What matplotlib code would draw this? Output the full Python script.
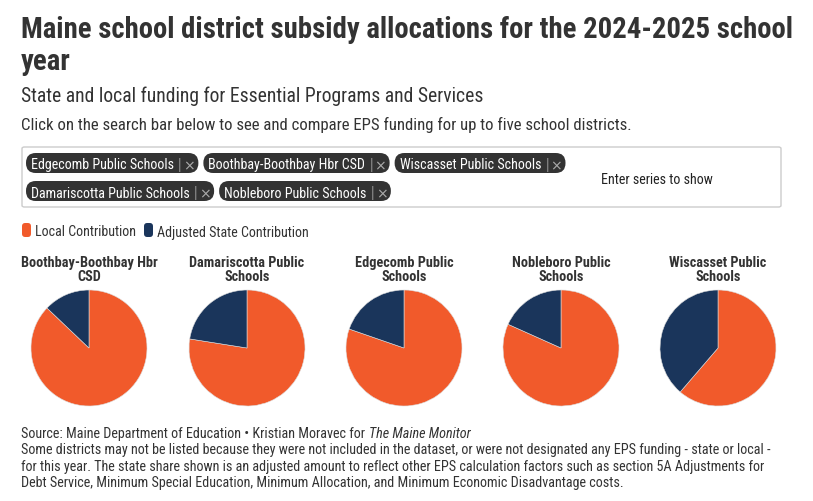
import matplotlib
matplotlib.use("Agg")
import matplotlib.pyplot as plt
from matplotlib.patches import FancyBboxPatch

# ---- data ----
districts = ["Boothbay-Boothbay Hbr\nCSD", "Damariscotta Public\nSchools", "Edgecomb Public\nSchools",
             "Nobleboro Public\nSchools", "Wiscasset Public\nSchools"]
local_share = [87.1, 77.5, 80.3, 81.7, 61.3]     # % Local Contribution
state_share = [12.9, 22.5, 19.7, 18.3, 38.7]     # % Adjusted State Contribution
series_names = ["Local Contribution", "Adjusted State Contribution"]
selected_row1 = ["Edgecomb Public Schools", "Boothbay-Boothbay Hbr CSD", "Wiscasset Public Schools"]
selected_row2 = ["Damariscotta Public Schools", "Nobleboro Public Schools"]

ORANGE = "#f15a2b"
NAVY = "#1a355b"
TXT = "#333333"
FONT = "Roboto Condensed"

W, H = 813, 502
fig = plt.figure(figsize=(W / 100, H / 100), dpi=100)
fig.patch.set_facecolor("white")

def fx(x):
    return x / W

def fy(y):
    return 1 - y / H

def pt(px):
    return px * 0.72

# ---- titles ----
fig.text(fx(21), fy(38), "Maine school district subsidy allocations for the 2024-2025 school",
         fontfamily=FONT, fontweight="bold", fontsize=pt(28.7), color=TXT, va="baseline")
fig.text(fx(21), fy(70), "year", fontfamily=FONT, fontweight="bold", fontsize=pt(28.7),
         color=TXT, va="baseline")
fig.text(fx(21), fy(102), "State and local funding for Essential Programs and Services",
         fontfamily=FONT, fontsize=pt(19.7), color=TXT, va="baseline")
fig.text(fx(21), fy(130), "Click on the search bar below to see and compare EPS funding for up to five school districts.",
         fontfamily=FONT, fontsize=pt(16.8), color=TXT, va="baseline")

# ---- search box ----
box = FancyBboxPatch((fx(22), fy(208)), fx(781) - fx(22), fy(148) - fy(208),
                     boxstyle="round,pad=0,rounding_size=0.003", transform=fig.transFigure,
                     facecolor="white", edgecolor="#cccccc", linewidth=1)
fig.add_artist(box)

fig.canvas.draw()
renderer = fig.canvas.get_renderer()

def pill(x0, yc, label):
    t = fig.text(fx(x0 + 5), fy(yc), label, fontfamily=FONT, fontsize=pt(14.0), color="white",
                 va="center_baseline", zorder=5)
    bb = t.get_window_extent(renderer)
    x = x0 + 5 + bb.width + 4
    s = fig.text(fx(x), fy(yc), "|", fontfamily=FONT, fontweight="light", fontsize=pt(16),
                 color="#aaaaaa", va="center_baseline", zorder=5)
    x += s.get_window_extent(renderer).width + 1.5
    c = fig.text(fx(x), fy(yc + 0.5), "\u00d7", fontfamily="DejaVu Sans", fontsize=pt(14),
                 color="#aaaaaa", va="center_baseline", zorder=5)
    x += c.get_window_extent(renderer).width + 3.5
    h = 20
    p = FancyBboxPatch((fx(x0), fy(yc + h / 2)), fx(x) - fx(x0), fy(yc - h / 2) - fy(yc + h / 2),
                       boxstyle="round,pad=0,rounding_size=0.012", transform=fig.transFigure,
                       facecolor="#333333", edgecolor="none", zorder=4, mutation_aspect=W / H)
    fig.add_artist(p)
    return x

x = 26
for name in selected_row1:
    x = pill(x, 164, name) + 5
x = 26
for name in selected_row2:
    x = pill(x, 192, name) + 5

fig.text(fx(601), fy(178), "Enter series to show", fontfamily=FONT, fontsize=pt(14),
         color="#222222", va="center_baseline")

# ---- legend ----
lx = 22
for name, col in zip(series_names, [ORANGE, NAVY]):
    sq = FancyBboxPatch((fx(lx), fy(238)), fx(9), fy(224) - fy(238),
                        boxstyle="round,pad=0,rounding_size=0.004", transform=fig.transFigure,
                        facecolor=col, edgecolor="none", mutation_aspect=W / H)
    fig.add_artist(sq)
    t = fig.text(fx(lx + 13), fy(231), name, fontfamily=FONT, fontsize=pt(14), color=TXT,
                 va="center_baseline")
    lx = lx + 13 + t.get_window_extent(renderer).width + 8

# ---- pies ----
centers = [89, 247, 404, 561, 718]
cy, r = 349, 58
for cx, name, loc, st in zip(centers, districts, local_share, state_share):
    ax = fig.add_axes([fx(cx - r), fy(cy + r), 2 * r / W, 2 * r / H])
    ax.pie([loc, st], colors=[ORANGE, NAVY], startangle=90, counterclock=False,
           wedgeprops=dict(linewidth=0.4, edgecolor="#dddddd"))
    ax.set_xlim(-1, 1)
    ax.set_ylim(-1, 1)
    ax.set_aspect("auto")
    ax.axis("off")
    fig.text(fx(cx), fy(270), name, fontfamily=FONT, fontweight="bold", fontsize=pt(14.2),
             color=TXT, ha="center", va="center", linespacing=0.95)

# ---- footer ----
fs = pt(14.1)
t = fig.text(fx(21), fy(438), "Source: Maine Department of Education \u2022 Kristian Moravec for",
             fontfamily=FONT, fontsize=fs, color=TXT, va="baseline")
wsrc = t.get_window_extent(renderer).width
fig.text(fx(21 + wsrc + 4), fy(438), "The Maine Monitor", fontfamily=FONT, fontstyle="italic",
         fontsize=fs, color=TXT, va="baseline")
notes = ["Some districts may not be listed because they were not included in the dataset, or were not designated any EPS funding - state or local -",
         "for this year. The state share shown is an adjusted amount to reflect other EPS calculation factors such as section 5A Adjustments for",
         "Debt Service, Minimum Special Education, Minimum Allocation, and Minimum Economic Disadvantage costs."]
for i, line in enumerate(notes):
    fig.text(fx(21), fy(454.5 + 16.5 * i), line, fontfamily=FONT, fontsize=fs, color=TXT,
             va="baseline")

fig.savefig("out.png", dpi=100)
